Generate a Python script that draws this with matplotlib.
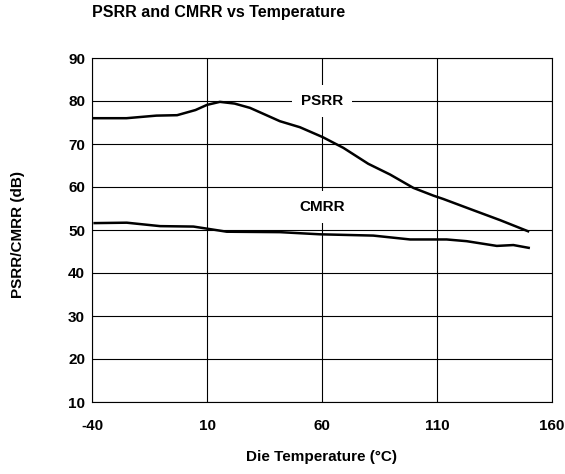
import matplotlib
matplotlib.use("Agg")
import matplotlib.pyplot as plt

plt.rcParams['font.family'] = ['Liberation Sans', 'DejaVu Sans']
plt.rcParams['axes.unicode_minus'] = False

# Temperature sweep (°C) and measured rejection ratios (dB)
psrr_temp = [-40, -25, -12, -3, 5, 10, 15.6, 22, 28.7, 35, 41.7, 50.4, 60.3, 69.3,
             80.1, 89.6, 99.7, 108.4, 112.8, 125.8, 137.4, 150.1]
psrr_db = [76.0, 76.0, 76.6, 76.7, 77.9, 79.1, 79.8, 79.4, 78.4, 76.9, 75.3, 73.9,
           71.6, 69.1, 65.4, 62.9, 59.8, 58.0, 57.2, 54.6, 52.3, 49.6]

cmrr_temp = [-39.4, -24.9, -10.4, 4.1, 18.6, 41.7, 59.1, 82.3, 98.3, 114.2,
             122.9, 136, 143.2, 150.4]
cmrr_db = [51.6, 51.7, 50.9, 50.8, 49.6, 49.5, 49.0, 48.7, 47.8, 47.8,
           47.4, 46.3, 46.5, 45.8]

x_ticks = [-40, 10, 60, 110, 160]
y_ticks = [10, 20, 30, 40, 50, 60, 70, 80, 90]

FS = 11

fig = plt.figure(figsize=(5.65, 4.74), dpi=100)
ax = fig.add_axes([92 / 565, 1 - 402 / 474, (552 - 92) / 565, (402 - 58) / 474])

ax.plot(psrr_temp, psrr_db, color='black', lw=1.8, solid_capstyle='butt',
        solid_joinstyle='round', zorder=3)
ax.plot(cmrr_temp, cmrr_db, color='black', lw=1.8, solid_capstyle='butt',
        solid_joinstyle='round', zorder=3)

ax.set_xlim(-40, 160)
ax.set_ylim(10, 90)
ax.set_xticks(x_ticks)
ax.set_yticks(y_ticks)
ax.grid(True, color='black', lw=0.8)
ax.set_axisbelow(True)
ax.tick_params(axis='x', length=0, pad=12, labelsize=FS)
ax.tick_params(axis='y', length=0, pad=5, labelsize=FS)
for lab in ax.get_xticklabels() + ax.get_yticklabels():
    lab.set_fontweight('bold')
for sp in ax.spines.values():
    sp.set_linewidth(0.8)

label_box = dict(facecolor='white', edgecolor='none', pad=6.5)
ax.text(60, 80, 'PSRR', ha='center', va='center', fontsize=FS, fontweight='bold',
        bbox=label_box, zorder=2)
ax.text(60, 55.3, 'CMRR', ha='center', va='center', fontsize=FS, fontweight='bold',
        bbox=label_box, zorder=2)

ax.set_xlabel('Die Temperature (°C)', fontsize=FS, fontweight='bold', va='center')
ax.xaxis.set_label_coords(0.5, (402 - 457) / 344)
ax.set_ylabel('PSRR/CMRR (dB)', fontsize=FS, fontweight='bold', va='center')
ax.yaxis.set_label_coords((18 - 92) / 460, 0.5 - 5 / 344)

fig.text(92 / 565, 1 - 13 / 474, 'PSRR and CMRR vs Temperature', fontsize=11.5,
         fontweight='bold', ha='left', va='center')

fig.savefig('out.png', dpi=100)
